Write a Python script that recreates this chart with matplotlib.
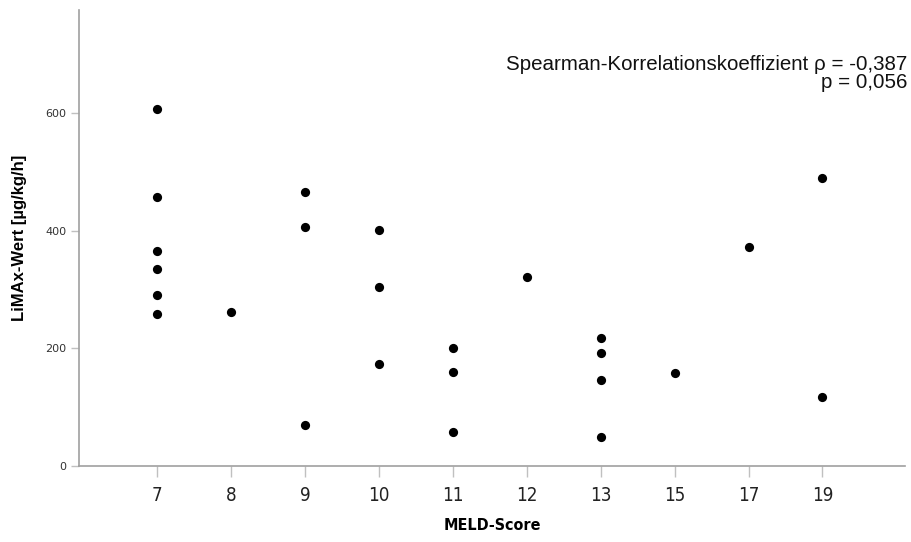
import numpy as np
import matplotlib
matplotlib.use('Agg')
import matplotlib.pyplot as plt

# MELD categories (drawn as equally spaced categories) and LiMAx values per patient
meld_categories = ['7', '8', '9', '10', '11', '12', '13', '15', '17', '19']
meld = ['7', '7', '7', '7', '7', '7',
        '8',
        '9', '9', '9',
        '10', '10', '10',
        '11', '11', '11',
        '12',
        '13', '13', '13', '13',
        '15',
        '17',
        '19', '19']
limax = [607, 457, 365, 335, 291, 258,
         261,
         466, 406, 69,
         401, 305, 173,
         200, 160, 58,
         322,
         218, 192, 146, 49,
         158,
         372,
         490, 117]

rho_text = 'Spearman-Korrelationskoeffizient \u03c1 = -0,387\np = 0,056'

fig = plt.figure(figsize=(9.11, 5.42), dpi=100)
ax = fig.add_axes([0.0867, 0.140, 0.907, 0.842])

xpos = [meld_categories.index(m) for m in meld]
ax.scatter(xpos, limax, s=44, color='black', zorder=3, linewidths=0)

ax.set_xlim(-1.06, 10.12)
ax.set_ylim(0, 775)

grey = '#a0a0a0'
for side in ['top', 'right']:
    ax.spines[side].set_visible(False)
for side in ['left', 'bottom']:
    ax.spines[side].set_color(grey)
    ax.spines[side].set_linewidth(1.2)

ax.set_xticks(range(len(meld_categories)))
ax.set_xticklabels(meld_categories, fontsize=13.5, fontstretch='condensed',
                   family='DejaVu Sans')
ax.tick_params(axis='x', length=8, width=1.0, color='#c0c0c0', pad=6,
               labelcolor='#222222')

ax.set_yticks([0, 200, 400, 600])
ax.set_yticklabels(['0', '200', '400', '600'], fontsize=8,
                   family='DejaVu Sans')
ax.tick_params(axis='y', length=6, width=1.0, color='#c0c0c0', pad=3,
               labelcolor='#333333')

ax.set_xlabel('MELD-Score', fontsize=11.5, fontweight='bold', labelpad=10,
              fontstretch='condensed', family='DejaVu Sans')
ax.set_ylabel('LiMAx-Wert [\u00b5g/kg/h]', fontsize=12, fontweight='bold',
              family=['Liberation Sans', 'DejaVu Sans'])
ax.yaxis.set_label_coords(-0.063, 0.5)

ax.text(1.002, 0.9, rho_text, transform=ax.transAxes, ha='right', va='top',
        fontsize=14.8, linespacing=0.9, family=['Liberation Sans', 'DejaVu Sans'],
        color='#111111')

fig.savefig('out.png', dpi=100)
